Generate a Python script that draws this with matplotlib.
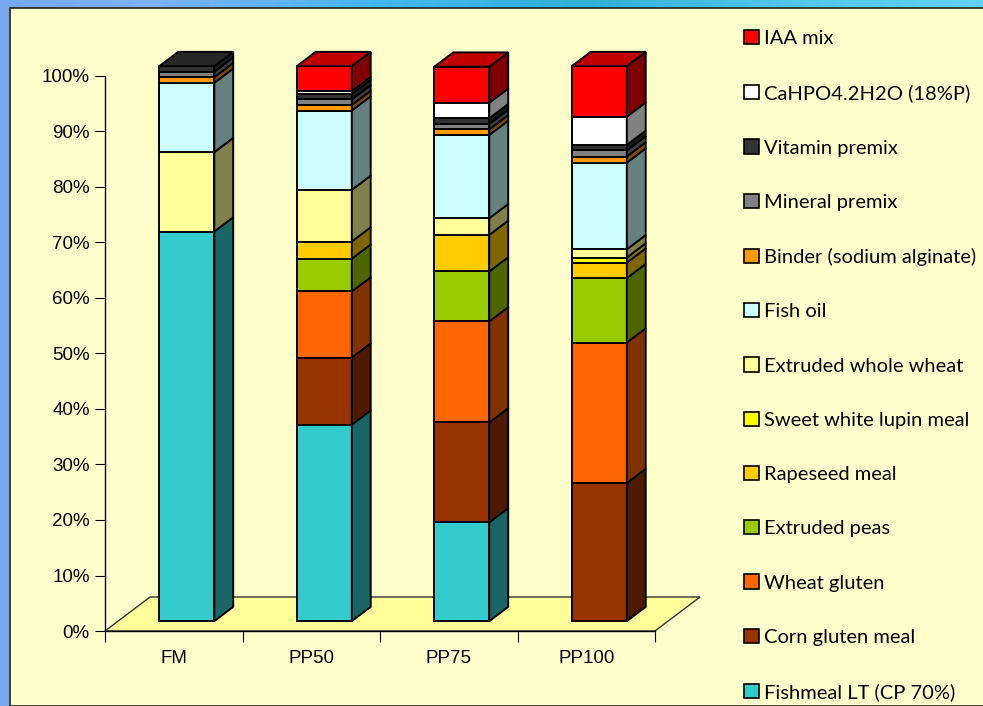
import numpy as np
import matplotlib
matplotlib.use("Agg")
import matplotlib.pyplot as plt
from matplotlib.patches import Polygon, Rectangle, Patch
from matplotlib.colors import to_rgb

# diets and ingredient shares (% of formula), stacked bottom -> top
diets = ["FM", "PP50", "PP75", "PP100"]
ingredients = ["Fishmeal LT (CP 70%)", "Corn gluten meal", "Wheat gluten",
               "Extruded peas", "Rapeseed meal", "Sweet white lupin meal",
               "Extruded whole wheat", "Fish oil", "Binder (sodium alginate)",
               "Mineral premix", "Vitamin premix", "CaHPO4.2H2O (18%P)",
               "IAA mix"]
fm = [70.2, 0, 0, 0, 0, 0, 14.3, 12.5, 1.0, 1.0, 1.0, 0, 0]
pp50 = [35.4, 12.1, 11.9, 5.9, 3.1, 0, 9.3, 14.3, 1.0, 1.0, 1.0, 0.5, 4.5]
pp75 = [17.8, 18.0, 18.2, 9.0, 6.6, 0, 3.0, 15.0, 1.0, 1.0, 1.0, 2.8, 6.5]
pp100 = [0, 24.9, 25.3, 11.6, 2.8, 0.9, 1.5, 15.6, 1.1, 1.1, 1.0, 5.1, 9.1]
colors = ["#33CCCC", "#993300", "#FF6600", "#99CC00", "#FFCC00", "#FFFF00",
          "#FFFF99", "#CCFFFF", "#FF9900", "#808080", "#333333", "#FFFFFF",
          "#FF0000"]

W, H = 983, 706
fig = plt.figure(figsize=(W / 100, H / 100), dpi=100)

# blue slide background showing round the chart area
bg = fig.add_axes([0, 0, 1, 1])
xs = np.linspace(0, 1, 300)
stops = np.array([0.0, 0.15, 0.4, 0.6, 0.8, 1.0])
cols = np.array([to_rgb(c) for c in ["#78A8F0", "#80B0F8", "#40B8F0",
                                     "#30B0D8", "#50C8E8", "#60D4F8"]])
row = np.stack([np.interp(xs, stops, cols[:, k]) for k in range(3)], axis=-1)
grad = np.repeat(row[None, :, :], 50, axis=0)
bg.imshow(grad, aspect="auto", extent=[0, 1, 0, 1])
bg.add_patch(Rectangle((10 / W, 0), 1, (H - 8) / H, facecolor="#FFFFCC",
                       edgecolor="#222222", lw=1.2))
bg.set_xlim(0, 1)
bg.set_ylim(0, 1)
bg.axis("off")

ax = fig.add_axes([105 / W, (H - 631) / H, 550 / W, 555 / H])
ax.set_xlim(-0.5, 3.5)
ax.set_ylim(0, 100)
ax.patch.set_alpha(0)

# full floor depth expressed in data units
DX = 45 / 137.5
DY = 34 / 5.55
d_front, d_back = 0.29, 0.71
half_w = 0.2


def shade(c, f):
    r, g, b = to_rgb(c)
    return (r * f, g * f, b * f)


def proj(x, y, d):
    return (x + DX * d, y + DY * d)


# floor
floor = [proj(-0.5, 0, 0), proj(3.5, 0, 0), proj(3.5, 0, 1), proj(-0.5, 0, 1)]
ax.add_patch(Polygon(floor, closed=True, facecolor="#FFFF99",
                     edgecolor="#333333", lw=1.0, clip_on=False, zorder=1))

data = [fm, pp50, pp75, pp100]
for i, vals in enumerate(data):
    x0, x1 = i - half_w, i + half_w
    base = 0.0
    segs = [(v, c) for v, c in zip(vals, colors) if v > 0]
    for k, (v, c) in enumerate(segs):
        top = base + v
        front = [proj(x0, base, d_front), proj(x1, base, d_front),
                 proj(x1, top, d_front), proj(x0, top, d_front)]
        side = [proj(x1, base, d_front), proj(x1, base, d_back),
                proj(x1, top, d_back), proj(x1, top, d_front)]
        ax.add_patch(Polygon(front, closed=True, facecolor=c,
                             edgecolor="black", lw=1.4, clip_on=False, zorder=3))
        ax.add_patch(Polygon(side, closed=True, facecolor=shade(c, 0.5),
                             edgecolor="black", lw=1.4, clip_on=False, zorder=3))
        if k == len(segs) - 1:
            lid = [proj(x0, top, d_front), proj(x1, top, d_front),
                   proj(x1, top, d_back), proj(x0, top, d_back)]
            ax.add_patch(Polygon(lid, closed=True, facecolor=shade(c, 0.76),
                                 edgecolor="black", lw=1.4, clip_on=False,
                                 zorder=3))
        base = top

for s in ["top", "right"]:
    ax.spines[s].set_visible(False)
ax.spines["left"].set_linewidth(1.0)
ax.spines["bottom"].set_linewidth(1.0)

ax.set_yticks(np.arange(0, 101, 10))
ax.set_yticklabels([f"{v}%" for v in range(0, 101, 10)])
ax.set_xticks([-0.5, 0.5, 1.5, 2.5, 3.5])
ax.set_xticklabels([])
ax.set_xticks(range(4), minor=True)
ax.set_xticklabels(diets, minor=True)
ax.tick_params(axis="x", which="minor", length=0, pad=14)
ax.tick_params(axis="x", which="major", length=8, direction="out")
ax.tick_params(axis="y", length=7, pad=4)
for lab in ax.get_yticklabels() + ax.get_xticklabels(minor=True):
    lab.set_fontfamily("Liberation Sans")
    lab.set_fontsize(13.5)

handles = [Patch(facecolor=c, edgecolor="black", lw=1.2) for c in colors]
leg = fig.legend(handles[::-1], ingredients[::-1], loc="upper left",
                 bbox_to_anchor=(726 / W, (H - 12) / H), frameon=False,
                 handlelength=0.72, handleheight=0.72, handletextpad=0.25,
                 labelspacing=1.84, prop={"family": "Lato", "size": 14.5})

fig.savefig("out.png", dpi=100)
